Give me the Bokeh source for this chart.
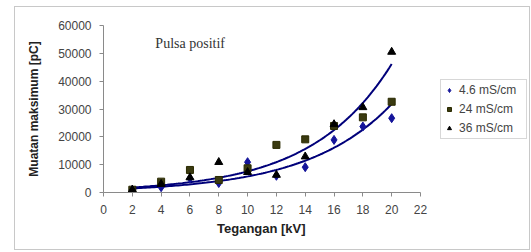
import numpy as np
from bokeh.plotting import figure
from bokeh.models import Range1d, FixedTicker, Legend, LegendItem, Label, Title
from bokeh.embed import file_html
from bokeh.resources import INLINE

# ---- data ----
voltage = [2, 4, 6, 8, 10, 12, 14, 16, 18, 20]
q_4_6 = [1000, 1900, 5000, 3400, 10900, 6000, 9100, 18900, 23700, 26700]
q_24 = [1000, 3900, 8100, 4500, 8700, 17100, 19100, 23900, 27000, 32600]
q_36 = [1000, 3000, 5400, 10900, 7300, 6300, 12900, 24500, 30600, 50500]
series_names = ["4.6 mS/cm", "24 mS/cm", "36 mS/cm"]
x_ticks = [0, 2, 4, 6, 8, 10, 12, 14, 16, 18, 20, 22]
y_ticks = [0, 10000, 20000, 30000, 40000, 50000, 60000]
title_text = "Pulsa positif"
x_label = "Tegangan [kV]"
y_label = "Muatan maksimum [pC]"

X_MAX = 22
AXIS_W = 317          # pixel length of the 0..22 x axis
FRAME_W = 426         # frame also holds the legend area on the right
p = figure(
    frame_width=FRAME_W, frame_height=167,
    min_border_left=88, min_border_right=0,
    min_border_top=18, min_border_bottom=57,
    x_range=Range1d(0, X_MAX * FRAME_W / AXIS_W), y_range=Range1d(0, 60000),
    output_backend="svg", toolbar_location=None,
)
p.styles = {"border": "1px solid #c8c8c8", "margin-left": "14px", "margin-top": "6px"}
p.outline_line_color = None
p.xgrid.grid_line_color = None
p.ygrid.grid_line_color = None
p.background_fill_color = "white"
p.border_fill_color = "white"

for ax in (p.xaxis[0], p.yaxis[0]):
    ax.axis_line_color = "#8a8a8a"
    ax.major_tick_line_color = "#8a8a8a"
    ax.minor_tick_line_color = None
    ax.major_tick_in = 0
    ax.major_tick_out = 4
    ax.major_label_standoff = 8
    ax.major_label_text_font = "Liberation Sans"
    ax.major_label_text_font_size = "12px"
    ax.major_label_text_color = "#444444"
    ax.axis_label_text_font = "Liberation Sans"
    ax.axis_label_text_font_style = "bold"
    ax.axis_label_text_color = "#222222"

p.xaxis.bounds = (0, X_MAX)
p.xaxis.ticker = FixedTicker(ticks=x_ticks)
p.yaxis.ticker = FixedTicker(ticks=y_ticks)
p.yaxis.axis_label = y_label
p.yaxis.axis_label_text_font_size = "12px"
p.yaxis.axis_label_standoff = 14

# x-axis label, placed under the middle of the 0..22 axis (not the whole frame)
p.add_layout(Title(text=x_label, align="left", offset=AXIS_W / 2 - 45,
                   text_font="Liberation Sans", text_font_size="13px",
                   text_font_style="bold", text_color="#222222",
                   standoff=4), "below")

# exponential trend lines (least-squares fit on log values)
xs = np.linspace(voltage[0], voltage[-1], 120)
for ys in (q_36, q_4_6):
    b, a = np.polyfit(voltage, np.log(ys), 1)
    p.line(xs, np.exp(a + b * xs), line_color="#00007a", line_width=2)

r1 = p.scatter(voltage, q_4_6, marker="diamond", size=9,
               fill_color="#14149a", line_color="#14149a")
r2 = p.scatter(voltage, q_24, marker="square", size=7,
               fill_color="#3a3a10", line_color="#2a2a00")
r3 = p.scatter(voltage, q_36, marker="triangle", size=8,
               fill_color="#000000", line_color="#000000")

legend = Legend(
    items=[LegendItem(label=series_names[0], renderers=[r1]),
           LegendItem(label=series_names[1], renderers=[r2]),
           LegendItem(label=series_names[2], renderers=[r3])],
    location=(AXIS_W + 20, 53),
    label_text_font="Liberation Sans",
    label_text_font_size="12px",
    label_text_color="#444444",
    label_width=64, label_height=14,
    glyph_width=10, glyph_height=14,
    label_standoff=5, spacing=5, padding=3,
    border_line_color="#b0b0b0", border_line_width=1,
    background_fill_color="white",
)
p.add_layout(legend, "center")

p.add_layout(Label(x=3.6, y=53600, text=title_text,
                   text_font="Liberation Serif", text_font_size="14px",
                   text_color="#333333", text_baseline="middle"))

open("out.html", "w").write(file_html(p, INLINE))
